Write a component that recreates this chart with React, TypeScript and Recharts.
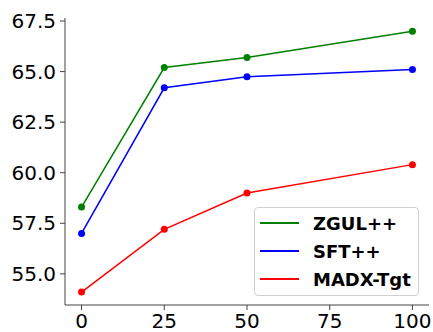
import React from 'react';
import { LineChart, Line, XAxis, YAxis } from 'recharts';

const xValues = [0, 25, 50, 100];
const zgul = [58.3, 65.2, 65.7, 67.0];
const sft = [57.0, 64.2, 64.75, 65.1];
const madx = [54.1, 57.2, 59.0, 60.4];
const xTicks = [0, 25, 50, 75, 100];
const yTicks = [55, 57.5, 60, 62.5, 65, 67.5];

const seriesInfo = [
  { key: 'zgul', name: 'ZGUL++', color: '#008000' },
  { key: 'sft', name: 'SFT++', color: '#0000ff' },
  { key: 'madx', name: 'MADX-Tgt', color: '#ff0000' },
];

const data = xValues.map((x, i) => ({ x, zgul: zgul[i], sft: sft[i], madx: madx[i] }));

const font = 'DejaVu Sans, sans-serif';

const LegendBox = () => (
  <div
    style={{
      position: 'absolute',
      left: 254,
      top: 207,
      border: '1px solid #d0d0d0',
      borderRadius: 4,
      background: 'rgba(255,255,255,0.8)',
      width: 165,
      height: 89,
      boxSizing: 'border-box',
      paddingTop: 1,
      fontFamily: font,
    }}
  >
    {seriesInfo.map((s) => (
      <div key={s.key} style={{ display: 'flex', alignItems: 'center', height: 28 }}>
        <div style={{ width: 39, height: 2, background: s.color, marginLeft: 5, marginRight: 14 }} />
        <span style={{ fontWeight: 'bold', fontSize: 18, color: '#000' }}>{s.name}</span>
      </div>
    ))}
  </div>
);

export default function App() {
  return (
    <div style={{ position: 'absolute', left: 0, top: 0, width: 433, height: 332 }}>
      <LineChart width={433} height={332} data={data} margin={{ top: 18, right: 4, bottom: 0, left: 0 }}>
        <XAxis
          dataKey="x"
          type="number"
          domain={[-5, 105]}
          ticks={xTicks}
          height={27}
          stroke="#444"
          tickLine={{ stroke: '#444' }}
          tickSize={5}
          tick={{ fill: '#000', fontSize: 20, fontFamily: font }}
          tickMargin={4}
        />
        <YAxis
          type="number"
          domain={[53.46, 67.65]}
          ticks={yTicks}
          width={65}
          stroke="#444"
          tickSize={5}
          tickMargin={4}
          tickFormatter={(v: number) => v.toFixed(1)}
          tick={{ fill: '#000', fontSize: 20, fontFamily: font }}
          allowDataOverflow
        />
        {seriesInfo.map((s) => (
          <Line
            key={s.key}
            dataKey={s.key}
            name={s.name}
            stroke={s.color}
            strokeWidth={1.5}
            dot={{ r: 3.5, fill: s.color, stroke: s.color, strokeWidth: 0 }}
            activeDot={false}
            isAnimationActive={false}
          />
        ))}
      </LineChart>
      <LegendBox />
    </div>
  );
}
